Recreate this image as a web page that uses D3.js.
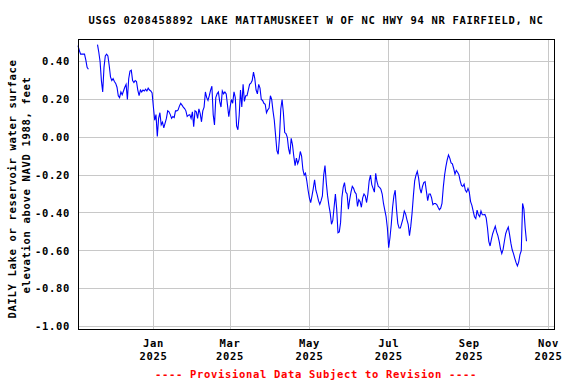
<!DOCTYPE html>
<html>
<head>
<meta charset="utf-8">
<script src="https://cdn.jsdelivr.net/npm/d3@7"></script>
<style>
body{margin:0;background:#fff;}
svg text{font-family:"DejaVu Sans Mono",monospace;font-weight:bold;font-size:10.5px;letter-spacing:0.68px;}
</style>
</head>
<body>
<div id="chart"></div>
<script>
// daily values (feet), first value is 2024-11-04, null = missing
var startDate = "2024-11-04";
var nov = [0.485,0.46,0.44,0.44,0.44,0.44,0.41,0.37,0.36,null,null,null,null,null,null,0.49,0.45,0.40,0.30,0.24,0.37,0.43,0.44,0.43,0.38,0.32,0.30];
var dec = [0.31,0.295,0.285,0.265,0.22,0.21,0.24,0.225,0.245,0.265,0.28,0.20,0.31,0.35,0.355,0.30,0.29,0.30,0.295,0.25,0.22,0.25,0.24,0.25,0.245,0.255,0.245,0.26,0.25,0.245,0.235];
var jan = [0.16,0.09,0.12,0.005,0.10,0.13,0.066,0.08,0.05,0.075,0.10,0.14,0.135,0.12,0.10,0.11,0.105,0.14,0.14,0.145,0.165,0.18,0.17,0.16,0.152,0.14,0.11,0.117,0.12,0.10,0.135];
var feb = [0.056,0.14,0.135,0.10,0.15,0.125,0.082,0.14,0.16,0.24,0.21,0.195,0.22,0.25,0.27,0.12,0.065,0.21,0.23,0.24,0.19,0.16,0.245,0.23,0.24,0.23,0.17,0.109];
var mar = [0.16,0.20,0.18,0.24,0.21,0.06,0.04,0.117,0.25,0.16,0.28,0.19,0.22,0.22,0.25,0.28,0.287,0.30,0.345,0.31,0.25,0.23,0.28,0.26,0.20,0.195,0.18,0.175,0.13,0.145,0.155];
var apr = [0.22,0.20,0.14,0.09,0.01,-0.07,-0.09,0.00,0.15,0.20,0.13,0.025,0.02,0.00,-0.06,-0.09,-0.005,-0.04,-0.10,-0.15,-0.11,-0.14,-0.12,-0.075,-0.10,-0.17,-0.20,-0.19,-0.23,-0.28];
var may = [-0.32,-0.345,-0.31,-0.27,-0.225,-0.28,-0.305,-0.335,-0.355,-0.335,-0.31,-0.20,-0.15,-0.24,-0.31,-0.36,-0.40,-0.46,-0.44,-0.37,-0.30,-0.38,-0.505,-0.50,-0.45,-0.32,-0.265,-0.24,-0.29,-0.30,-0.38];
var jun = [-0.33,-0.29,-0.26,-0.27,-0.29,-0.30,-0.366,-0.33,-0.34,-0.37,-0.32,-0.30,-0.31,-0.345,-0.30,-0.23,-0.20,-0.25,-0.27,-0.29,-0.19,-0.235,-0.26,-0.265,-0.275,-0.30,-0.35,-0.385,-0.42,-0.48];
var jul = [-0.584,-0.53,-0.46,-0.37,-0.31,-0.28,-0.38,-0.455,-0.48,-0.48,-0.455,-0.43,-0.39,-0.405,-0.435,-0.46,-0.52,-0.47,-0.40,-0.31,-0.23,-0.20,-0.18,-0.215,-0.27,-0.295,-0.26,-0.24,-0.235,-0.285,-0.335];
var aug = [-0.30,-0.30,-0.32,-0.356,-0.35,-0.35,-0.356,-0.37,-0.383,-0.375,-0.35,-0.265,-0.20,-0.155,-0.12,-0.093,-0.11,-0.135,-0.14,-0.165,-0.195,-0.175,-0.185,-0.198,-0.23,-0.255,-0.26,-0.247,-0.28,-0.29,-0.27];
var sep = [-0.29,-0.34,-0.36,-0.39,-0.42,-0.43,-0.385,-0.41,-0.42,-0.39,-0.41,-0.41,-0.408,-0.426,-0.48,-0.55,-0.575,-0.54,-0.51,-0.49,-0.47,-0.50,-0.52,-0.55,-0.59,-0.615,-0.593,-0.55,-0.51,-0.49];
var oct = [-0.475,-0.515,-0.56,-0.595,-0.615,-0.64,-0.663,-0.68,-0.66,-0.62,-0.60,-0.35,-0.38,-0.48,-0.55];

var yTicks = [-1.0,-0.8,-0.6,-0.4,-0.2,0.0,0.2,0.4];
var yTickLabels = ["-1.00","-0.80","-0.60","-0.40","-0.20","0.00","0.20","0.40"];
var xTickDates = ["2025-01-01","2025-03-01","2025-05-01","2025-07-01","2025-09-01","2025-11-01"];
var xTickMonths = ["Jan","Mar","May","Jul","Sep","Nov"];
var xTickYears = ["2025","2025","2025","2025","2025","2025"];

var title = "USGS 0208458892 LAKE MATTAMUSKEET W OF NC HWY 94 NR FAIRFIELD, NC";
var yLabel1 = "DAILY Lake or reservoir water surface";
var yLabel2 = "elevation above NAVD 1988, feet";
var note = "---- Provisional Data Subject to Revision ----";

var W = 576, H = 384;
var plotL = 78, plotR = 554, plotT = 39, plotB = 329;

var parse = d3.timeParse("%Y-%m-%d");
var t0 = parse(startDate);
var values = [].concat(nov, dec, jan, feb, mar, apr, may, jun, jul, aug, sep, oct);
var data = values.map(function(v, i){ return {date: d3.timeDay.offset(t0, i), v: v}; });

var x = d3.scaleTime()
	.domain([t0, d3.timeHour.offset(parse("2025-11-05"), 4)])
	.range([plotL, plotR]);
var y = d3.scaleLinear()
	.domain([-1.014, 0.52])
	.range([plotB, plotT]);

var svg = d3.select("#chart").append("svg")
	.attr("width", W)
	.attr("height", H);

// grid
svg.append("g").selectAll("line").data(yTicks).enter().append("line")
	.attr("x1", plotL).attr("x2", plotR)
	.attr("y1", function(d){ return y(d); }).attr("y2", function(d){ return y(d); })
	.attr("stroke", "#c8c8c8").attr("shape-rendering", "crispEdges");
svg.append("g").selectAll("line").data(xTickDates).enter().append("line")
	.attr("x1", function(d){ return x(parse(d)); }).attr("x2", function(d){ return x(parse(d)); })
	.attr("y1", plotT).attr("y2", plotB)
	.attr("stroke", "#c8c8c8").attr("shape-rendering", "crispEdges");

// y tick labels
svg.append("g").selectAll("text").data(yTicks).enter().append("text")
	.attr("x", plotL - 8)
	.attr("y", function(d){ return y(d); })
	.attr("dy", "0.36em")
	.style("text-anchor", "end")
	.text(function(d, i){ return yTickLabels[i]; });

// x tick labels, two lines
var xt = svg.append("g").selectAll("g").data(xTickDates).enter().append("g")
	.attr("transform", function(d){ return "translate(" + x(parse(d)) + ",0)"; });
xt.append("text").attr("y", 347).style("text-anchor", "middle")
	.text(function(d, i){ return xTickMonths[i]; });
xt.append("text").attr("y", 360).style("text-anchor", "middle")
	.text(function(d, i){ return xTickYears[i]; });

// series
var line = d3.line()
	.defined(function(d){ return d.v !== null; })
	.x(function(d){ return x(d.date); })
	.y(function(d){ return y(d.v); });
svg.append("path")
	.datum(data)
	.attr("d", line)
	.attr("fill", "none")
	.attr("stroke", "#0000ff")
	.attr("stroke-width", 1.1);

// frame
svg.append("rect")
	.attr("x", plotL + 0.5).attr("y", plotT + 0.5)
	.attr("width", plotR - plotL).attr("height", plotB - plotT)
	.attr("fill", "none").attr("stroke", "#000")
	.attr("shape-rendering", "crispEdges");

// texts
svg.append("text").attr("x", 316).attr("y", 24)
	.style("text-anchor", "middle").text(title);
svg.append("text")
	.attr("transform", "translate(16,189) rotate(-90)")
	.style("text-anchor", "middle").text(yLabel1);
svg.append("text")
	.attr("transform", "translate(29.5,185) rotate(-90)")
	.style("text-anchor", "middle").text(yLabel2);
svg.append("text").attr("x", 316).attr("y", 378)
	.style("text-anchor", "middle").attr("fill", "#ff0000").text(note);
</script>
</body>
</html>
